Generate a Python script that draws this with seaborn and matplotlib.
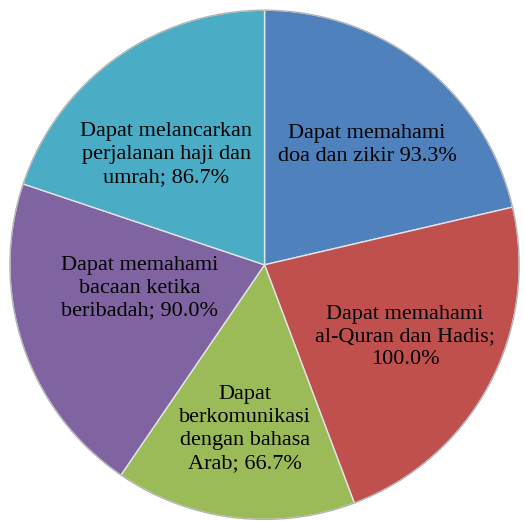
import matplotlib
matplotlib.use("Agg")
import matplotlib.pyplot as plt
import seaborn as sns
import numpy as np

# Data
categories = [
    "Dapat memahami\ndoa dan zikir",
    "Dapat memahami\nal-Quran dan Hadis;\n",
    "Dapat\nberkomunikasi\ndengan bahasa\nArab;",
    "Dapat memahami\nbacaan ketika\nberibadah;",
    "Dapat melancarkan\nperjalanan haji dan\numrah;",
]
values = [93.3, 100.0, 66.7, 90.0, 86.7]
colors = ["#4F81BD", "#C0504D", "#9BBB59", "#8064A2", "#4BACC6"]
# label placement inside each slice (radius fraction, angle nudge in degrees)
label_dist = [0.62, 0.62, 0.65, 0.50, 0.58]
label_nudge = [-2, 1, 0, -8, 6]

labels = []
for cat, val in zip(categories, values):
    sep = "" if cat.endswith("\n") else " "
    labels.append(f"{cat}{sep}{val:.1f}%")

sns.set_theme(style="white")
plt.rcParams["font.family"] = ["Liberation Serif", "DejaVu Serif"]

fig = plt.figure(figsize=(5.24, 5.22), dpi=100)
ax = fig.add_axes([0.0, 0.0, 1.0, 1.0])

wedges, _ = ax.pie(
    values,
    colors=colors,
    startangle=90,
    counterclock=False,
    radius=1.0,
    wedgeprops=dict(edgecolor="#e4e4e4", linewidth=1.0),
)

# thin grey rim around the pie
ax.add_patch(plt.Circle((0, 0), 1.0, fill=False, edgecolor="#b0b0b0", linewidth=0.8))

# label each slice inside, centred on its mid angle
for w, lab, d, n in zip(wedges, labels, label_dist, label_nudge):
    ang = np.deg2rad((w.theta1 + w.theta2) / 2 + n)
    ax.text(d * np.cos(ang), d * np.sin(ang), lab,
            ha="center", va="center", multialignment="center",
            fontsize=16, color="black", linespacing=1.27,
            family="Liberation Serif")

ax.set_xlim(-1.0 - 0.03, 1.0 + 0.01)
ax.set_ylim(-1.0 - 0.01, 1.0 + 0.04)
ax.set_aspect("equal")
ax.axis("off")

fig.savefig("out.png", dpi=100, facecolor="white")
